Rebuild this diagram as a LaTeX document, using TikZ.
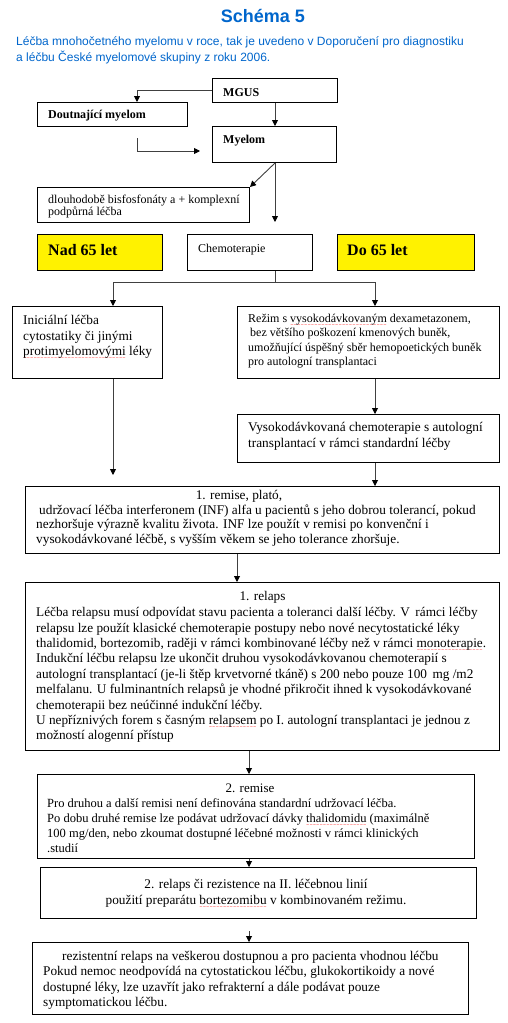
\documentclass[tikz,border=0pt]{standalone}
\usepackage{fontspec}
\setmainfont{Liberation Serif}
\newfontfamily\arial{Liberation Sans}
\newfontfamily\djv{DejaVu Sans}
\usetikzlibrary{arrows.meta}
\definecolor{tblue}{HTML}{0066CC}
\newcommand\redwave[1]{\setbox0=\hbox{#1}\leavevmode\rlap{\lower4pt\hbox to \wd0{\color{red}\fontsize{4}{4}\djv\xleaders\hbox{\char"223C}\hfil}}\box0\relax}
\newcommand\ml[1]{\begin{tabular}[t]{@{}l@{}}#1\end{tabular}}
\newcommand\mc[1]{\begin{tabular}[t]{@{}c@{}}#1\end{tabular}}
\begin{document}
\begin{tikzpicture}[x=1pt,y=-1pt,
  box/.style={draw=black, line width=1pt, inner sep=0pt, anchor=north west},
  ybox/.style={box, fill=yellow},
  txt/.style={anchor=base west, inner sep=0pt, text=black},
  ctr/.style={anchor=base, inner sep=0pt, text=black},
  arr/.style={draw=black!75, line width=0.9pt, -{Triangle[length=6pt,width=6pt,color=black]}},
  conn/.style={draw=black!75, line width=0.9pt},
  bold12/.style={font=\bfseries\fontsize{12}{14}\selectfont},
  bold16/.style={font=\bfseries\fontsize{16}{18}\selectfont}
]
\useasboundingbox (0,0) rectangle (508,1023);
\fill[white] (0,0) rectangle (508,1023);

% title
\node[ctr, text=tblue, font=\arial\bfseries\fontsize{18}{20}\selectfont] (title) at (263,22) {Schéma 5};
\node[txt, text=tblue, font=\arial\fontsize{12}{16}\selectfont] (sub) at (16,45)
  {\ml{Léčba mnohočetného myelomu v roce, tak je uvedeno v Doporučení pro diagnostiku\\a léčbu České myelomové skupiny z roku 2006.}};

% boxes
\node[box, minimum width=125pt, minimum height=24pt] (mgus) at (212,78) {};
\node[box, minimum width=150pt, minimum height=24pt] (dout) at (37,102) {};
\node[box, minimum width=124pt, minimum height=36pt] (myelom) at (212,126) {};
\node[box, minimum width=212pt, minimum height=35pt] (dlouho) at (37,187) {};
\node[ybox, minimum width=125pt, minimum height=36pt] (nad) at (37,234) {};
\node[box, minimum width=125pt, minimum height=36pt] (chemo) at (187,234) {};
\node[ybox, minimum width=137pt, minimum height=36pt] (do) at (337,234) {};
\node[box, minimum width=150pt, minimum height=72pt] (inic) at (12,306) {};
\node[box, minimum width=262pt, minimum height=72pt] (rezim) at (237,306) {};
\node[box, minimum width=262pt, minimum height=48pt] (vys) at (237,414) {};
\node[box, minimum width=474pt, minimum height=67pt] (rem1) at (25,486) {};
\node[box, minimum width=474pt, minimum height=168pt] (rel1) at (25,582) {};
\node[box, minimum width=437pt, minimum height=84pt] (rem2) at (37,774) {};
\node[box, minimum width=436pt, minimum height=51pt] (rel2) at (40,867) {};
\node[box, minimum width=436pt, minimum height=72pt] (last) at (32,942) {};

% texts
\node[txt, bold12] (tmgus) at (223,96) {MGUS};
\node[txt, bold12] (tdout) at (48,118) {Doutnající myelom};
\node[txt, bold12] (tmyel) at (223,143.5) {Myelom};
\node[txt, font=\fontsize{12}{12.5}\selectfont] (tdl) at (48,203)
  {\ml{dlouhodobě bisfosfonáty a + komplexní\\podpůrná léčba}};
\node[txt, bold16] (tnad) at (48,255) {Nad 65 let};
\node[txt, font=\fontsize{12}{14}\selectfont] (tchemo) at (198,252) {Chemoterapie};
\node[txt, bold16] (tdo) at (347,255) {Do 65 let};
\node[txt, font=\fontsize{13.3}{15.7}\selectfont] (tinic) at (23,324.3)
  {\ml{Iniciální léčba\\cytostatiky či jinými\\\redwave{protimyelomovými} léky}};
\node[txt, font=\fontsize{12}{14.5}\selectfont] (trezim) at (248,322.3)
  {\ml{Režim s \redwave{vysokodávkovaným} dexametazonem,\\\hspace{2pt}bez většího poškození kmenových buněk,\\umožňující úspěšný sběr hemopoetických buněk\\pro autologní transplantaci}};
\node[txt, font=\fontsize{13.3}{16.3}\selectfont] (tvys) at (248,431)
  {\ml{Vysokodávkovaná chemoterapie s autologní\\transplantací v rámci standardní léčby}};
\node[ctr, font=\fontsize{13.3}{15}\selectfont] (trem1h) at (239,499) {1. remise, plató,};
\node[txt, font=\fontsize{13.3}{14.5}\selectfont] (trem1) at (36,514.3)
  {\ml{\hspace{3pt}udržovací léčba interferonem (INF) alfa u pacientů s jeho dobrou tolerancí, pokud\\nezhoršuje výrazně kvalitu života. INF lze použít v remisi po konvenční i\\vysokodávkované léčbě, s vyšším věkem se jeho tolerance zhoršuje.}};
\node[ctr, font=\fontsize{13.25}{15}\selectfont] (trel1h) at (262.5,600) {1. relaps};
\node[txt, font=\fontsize{13.25}{15.4}\selectfont] (trel1) at (36,616.7)
  {\ml{Léčba relapsu musí odpovídat stavu pacienta a toleranci další léčby. V\, rámci léčby\\relapsu lze použít klasické chemoterapie postupy nebo nové necytostatické léky\\thalidomid, bortezomib, raději v rámci kombinované léčby než v rámci \redwave{monoterapie}.\\Indukční léčbu relapsu lze ukončit druhou vysokodávkovanou chemoterapií s\\autologní transplantací (je-li štěp krvetvorné tkáně) s 200 nebo pouze 100\, mg /m2\\melfalanu. U fulminantních relapsů je vhodné přikročit ihned k vysokodávkované\\chemoterapii bez neúčinné indukční léčby.\\U nepříznivých forem s časným \redwave{relapsem} po I. autologní transplantaci je jednou z\\možností alogenní přístup}};
\node[ctr, font=\fontsize{13}{15}\selectfont] (trem2h) at (250,792) {2. remise};
\node[txt, font=\fontsize{12.5}{15.3}\selectfont] (trem2) at (47,807)
  {\ml{Pro druhou a další remisi není definována standardní udržovací léčba.\\Po dobu druhé remise lze podávat udržovací dávky \redwave{thalidomidu} (maximálně\\100 mg/den, nebo zkoumat dostupné léčebné možnosti v rámci klinických\\.studií}};
\node[ctr, font=\fontsize{13.3}{16}\selectfont] (trel2) at (256,888)
  {\mc{2. relaps či rezistence na II. léčebnou linií\\použití preparátu \redwave{bortezomibu} v kombinovaném režimu.}};
\node[txt, font=\fontsize{13.3}{15.3}\selectfont] (tlast) at (43,960.5)
  {\ml{\hspace{19pt}rezistentní relaps na veškerou dostupnou a pro pacienta vhodnou léčbu\\Pokud nemoc neodpovídá na cytostatickou léčbu, glukokortikoidy a nové\\dostupné léky, lze uzavřít jako refrakterní a dále podávat pouze\\symptomatickou léčbu.}};

% helper coordinates
\coordinate (dm1) at (137,138);
\coordinate (dm2) at (200,151);
\coordinate (mcol) at (275,222);
\coordinate (split) at (275,282);
\coordinate (iend) at (113,475);
\coordinate (colR) at (375,0);
\coordinate (colM) at (249,0);
\coordinate (rend) at (249,931);

% connectors
\draw[arr] (mgus.west) -| ([xshift=100pt]dout.north west);
\draw[arr] (mcol |- mgus.south) -- (mcol |- myelom.north);
\draw[arr] (dm1) |- (dm2);
\draw[arr] (mcol |- myelom.south) -- (dlouho.north east);
\draw[arr] (mcol |- myelom.south) -- (mcol);
\draw[conn] (split |- chemo.south) -- (split);
\draw[arr] (split) -| ([xshift=101pt]inic.north west);
\draw[arr] (split) -| (colR |- rezim.north);
\draw[arr] (iend |- inic.south) -- (iend);
\draw[arr] (colR |- rezim.south) -- (colR |- vys.north);
\draw[arr] (colR |- vys.south) -- (colR |- rem1.north);
\draw[arr] ([xshift=212pt]rem1.south west) -- ([xshift=212pt]rel1.north west);
\draw[arr] (colM |- rel1.south) -- (colM |- rem2.north);
\draw[arr] (colM |- rem2.south) -- (colM |- rel2.north);
\draw[arr] (rend) -- (colM |- last.north);
\end{tikzpicture}
\end{document}
